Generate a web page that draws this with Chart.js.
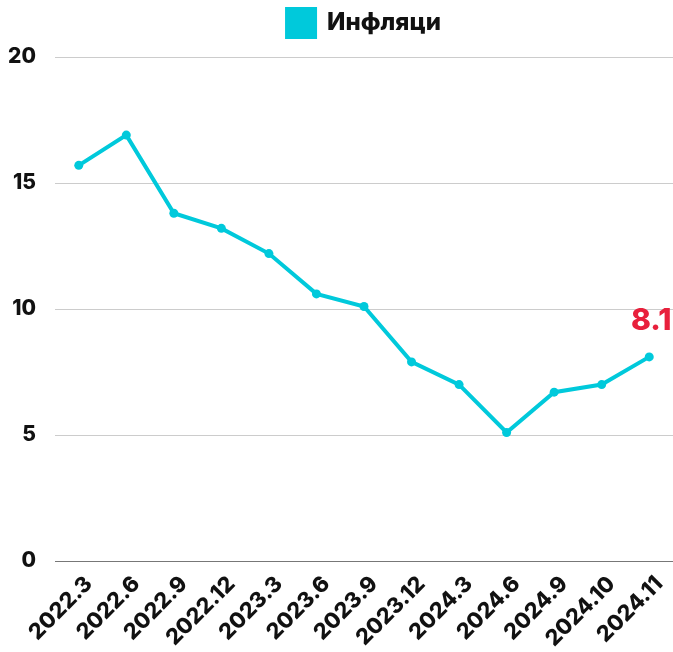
<!DOCTYPE html>
<html>
<head>
<meta charset="utf-8">
<script src="https://cdn.jsdelivr.net/npm/chart.js@4/dist/chart.umd.min.js"></script>
<style>
html,body{margin:0;padding:0;background:#fff;}
#wrap{width:673px;height:652px;position:relative;}
</style>
</head>
<body>
<div id="wrap"><canvas id="c"></canvas></div>
<script>
const categories = ["2022.3","2022.6","2022.9","2022.12","2023.3","2023.6","2023.9","2023.12","2024.3","2024.6","2024.9","2024.10","2024.11"];
const inflation = [15.7,16.9,13.8,13.2,12.2,10.6,10.1,7.9,7.0,5.1,6.7,7.0,8.1];
const seriesName = "Инфляци";
const yTicks = [0,5,10,15,20];
const lastLabel = "8.1";

const FONT = "Inter, 'Open Sans', sans-serif";
const CYAN = "#00C9DB";

const lastLabelPlugin = {
  id: 'lastLabel',
  afterDatasetsDraw(chart) {
    const meta = chart.getDatasetMeta(0);
    const pt = meta.data[meta.data.length - 1];
    const ctx = chart.ctx;
    ctx.save();
    ctx.font = "800 30px " + FONT;
    ctx.fillStyle = "#E8203C";
    ctx.textAlign = "center";
    ctx.textBaseline = "alphabetic";
    ctx.fillText(lastLabel, pt.x + 2, pt.y - 27);
    ctx.restore();
  }
};

new Chart(document.getElementById('c'), {
  type: 'line',
  data: {
    labels: categories,
    datasets: [{
      label: seriesName,
      data: inflation,
      borderColor: CYAN,
      backgroundColor: CYAN,
      borderWidth: 4,
      pointRadius: 4.5,
      pointBackgroundColor: CYAN,
      pointBorderWidth: 0,
      tension: 0
    }]
  },
  options: {
    responsive: true,
    maintainAspectRatio: false,
    animation: false,
    layout: { autoPadding: false, padding: 0 },
    plugins: {
      legend: {
        display: true,
        fullSize: false,
        weight: 1000,
        labels: {
          color: '#111',
          font: { family: FONT, size: 24, weight: '800' },
          boxWidth: 28,
          boxHeight: 28,
          padding: 9
        }
      },
      title: {
        display: true,
        text: '',
        position: 'top',
        fullSize: false,
        weight: 500,
        padding: 0,
        font: { size: 10, lineHeight: 1 }
      },
      tooltip: { enabled: false }
    },
    scales: {
      x: {
        offset: true,
        grid: { display: false },
        border: { display: false },
        afterFit(axis) { axis.height = 91; axis.paddingRight = 0; axis.paddingLeft = 0; },
        ticks: {
          color: '#111',
          font: { family: FONT, size: 22, weight: '800' },
          maxRotation: 45,
          minRotation: 45,
          autoSkip: false,
          labelOffset: 10,
          padding: 2
        }
      },
      y: {
        min: 0,
        max: 20,
        afterFit(axis) { axis.width = 55; axis.paddingTop = 57; },
        afterBuildTicks(axis) { axis.ticks = yTicks.map(v => ({ value: v })); },
        grid: {
          color: ctx => ctx.tick && ctx.tick.value === 0 ? '#777' : '#ccc',
          lineWidth: 1,
          drawTicks: false
        },
        border: { display: false },
        ticks: {
          color: '#111',
          font: { family: FONT, size: 21, weight: '800' },
          padding: 19
        }
      }
    }
  },
  plugins: [lastLabelPlugin]
});
</script>
</body>
</html>
